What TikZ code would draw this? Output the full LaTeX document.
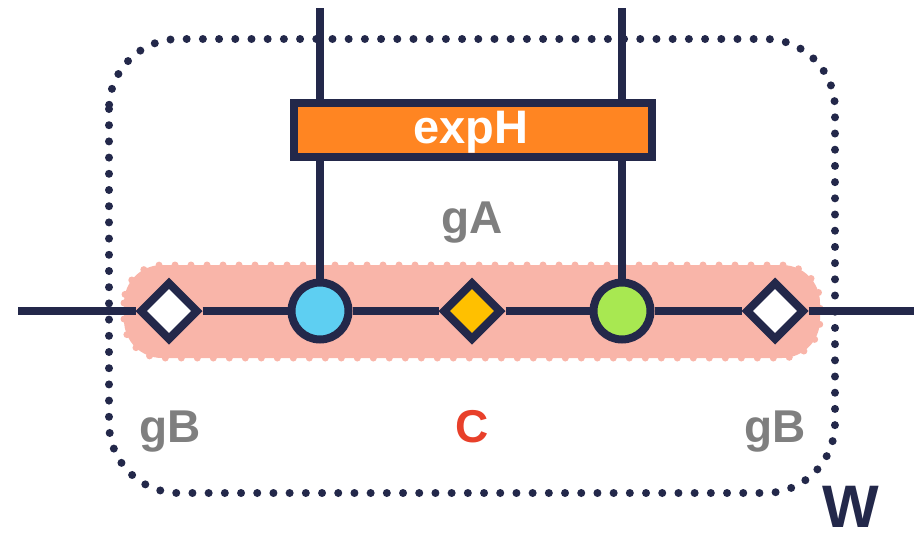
\documentclass[tikz,border=0pt]{standalone}
\usepackage{fontspec}
\setmainfont{Liberation Sans}
\usetikzlibrary{shapes.geometric}
\definecolor{ink}{HTML}{23284A}
\definecolor{bandpink}{HTML}{F9B5A9}
\definecolor{boxorange}{HTML}{FF8522}
\definecolor{dotblue}{HTML}{5ECFF2}
\definecolor{dotgreen}{HTML}{A8E851}
\definecolor{gold}{HTML}{FFC000}
\definecolor{labelgray}{HTML}{7F7F7F}
\definecolor{labelred}{HTML}{E8402A}
\tikzset{
  wire/.style={draw=ink, line width=8},
  gate/.style={circle, draw=ink, line width=8, minimum size=57, inner sep=0},
  swap/.style={diamond, draw=ink, line width=8, minimum size=59, inner sep=0, fill=white},
  opbox/.style={rectangle, draw=ink, line width=8, fill=boxorange, minimum width=358,
    minimum height=54, inner sep=0},
  tag/.style={anchor=base, inner sep=0, font=\bfseries\fontsize{46}{46}\selectfont},
}
\begin{document}
\begin{tikzpicture}[x=1pt, y=-1pt]
\useasboundingbox (0,0) rectangle (914,536);

% highlighted region along the main wire
\fill[bandpink, rounded corners=38] (124,265) rectangle (820,358);
\draw[bandpink, line width=7, line cap=round, dash pattern=on 0pt off 16pt, rounded corners=38]
  (124,265) rectangle (820,358);

% dotted enclosure W
\draw[ink, line width=8, line cap=round, dash pattern=on 0pt off 16.2pt, rounded corners=70]
  (109,39) rectangle (835,493);

% end points of the wires
\coordinate (wl) at (18,311);
\coordinate (wr) at (914,311);
\coordinate (ta) at (320,8);
\coordinate (tb) at (622,8);

% nodes on the main wire
\node[swap] (d1) at (169,311) {};
\node[gate, fill=dotblue] (c1) at (320,311) {};
\node[swap, fill=gold] (d2) at (472,311) {};
\node[gate, fill=dotgreen] (c2) at (622,311) {};
\node[swap] (d3) at (775,311) {};

% operator box
\node[opbox] (h) at (473,130) {};
\node[anchor=base, inner sep=0, text=white, font=\bfseries\fontsize{47}{47}\selectfont] (hl) at (471,143) {expH};

% connectors
\draw[wire] (wl) -- (d1) -- (c1) -- (d2) -- (c2) -- (d3) -- (wr);
\draw[wire] (ta) -- (h.north -| ta);
\draw[wire] (tb) -- (h.north -| tb);
\draw[wire] (h.south -| c1) -- (c1);
\draw[wire] (h.south -| c2) -- (c2);

% labels
\node[tag, text=labelgray] (ga) at (472,233) {gA};
\node[tag, text=labelgray] (gb1) at (170,442) {gB};
\node[tag, text=labelred] (lc) at (472,442) {C};
\node[tag, text=labelgray] (gb2) at (775,442) {gB};
\node[anchor=base, inner sep=0, text=ink, font=\bfseries\fontsize{60}{60}\selectfont] (lw) at (851,527) {W};
\end{tikzpicture}
\end{document}
